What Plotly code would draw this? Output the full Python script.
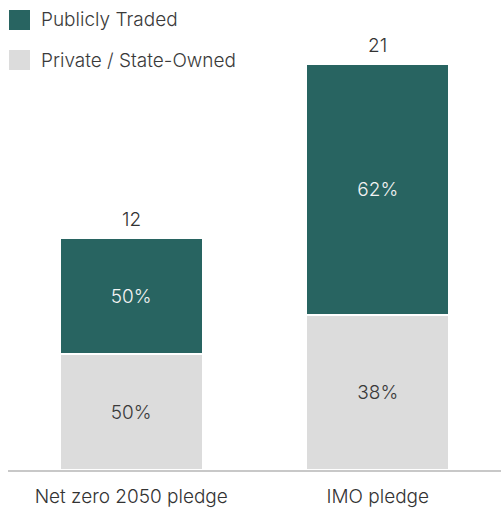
import plotly.graph_objects as go

# Pledge categories and company counts by ownership type
categories = ["Net zero 2050 pledge", "IMO pledge"]
publicly_traded = [6, 13]
private_state_owned = [6, 8]

series_names = ["Publicly Traded", "Private / State-Owned"]
teal = "#286461"
light_gray = "#dcdcdc"
font_family = "Inter, Roboto, sans-serif"
fsize = 19

totals = [p + q for p, q in zip(publicly_traded, private_state_owned)]
pct_public = [f"{round(100 * v / t)}%" for v, t in zip(publicly_traded, totals)]
pct_private = [f"{round(100 * v / t)}%" for v, t in zip(private_state_owned, totals)]

fig = go.Figure()
fig.add_trace(go.Bar(
    x=categories, y=private_state_owned, name=series_names[1],
    marker=dict(color=light_gray, line=dict(color="white", width=2)),
    text=pct_private, textposition="inside", insidetextanchor="middle",
    textfont=dict(color="#3a3a3a", size=fsize, family=font_family, weight=300),
    width=0.58, hoverinfo="skip",
))
fig.add_trace(go.Bar(
    x=categories, y=publicly_traded, name=series_names[0],
    marker=dict(color=teal, line=dict(color="white", width=2)),
    text=pct_public, textposition="inside", insidetextanchor="middle",
    textfont=dict(color="#f2f2f2", size=fsize, family=font_family, weight=300),
    width=0.58, hoverinfo="skip",
))

# Totals above each stack
for cat, tot in zip(categories, totals):
    fig.add_annotation(
        x=cat, y=tot, text=str(tot), showarrow=False,
        yanchor="bottom", yshift=5,
        font=dict(size=fsize, color="#333333", family=font_family, weight=300),
    )

# Legend drawn as swatches with labels
legend_rows = [(series_names[0], teal, 20), (series_names[1], light_gray, 60)]
for label, color, ypx in legend_rows:
    fig.add_shape(
        type="rect", xref="paper", yref="paper",
        x0=(9 - 8) / 493, x1=(30 - 8) / 493,
        y0=(470 - (ypx + 10)) / 464, y1=(470 - (ypx - 10)) / 464,
        fillcolor=color, line=dict(width=0),
    )
    fig.add_annotation(
        xref="paper", yref="paper",
        x=(39 - 8) / 493, y=(470 - ypx) / 464,
        xanchor="left", yanchor="middle", showarrow=False, text=label,
        font=dict(size=fsize, color="#3a3a3a", family=font_family, weight=300),
    )

fig.update_layout(
    barmode="stack",
    width=501, height=508,
    margin=dict(l=8, r=0, t=6, b=38, autoexpand=False),
    paper_bgcolor="white", plot_bgcolor="white",
    showlegend=False,
    font=dict(family=font_family, size=fsize, color="#333333"),
    uniformtext=dict(mode="show", minsize=10),
)
fig.update_xaxes(
    range=[-0.5, 1.5], showline=True, linecolor="#c8c8c8", linewidth=2,
    showgrid=False, ticks="", zeroline=False, ticklabelstandoff=8,
    automargin=False,
    tickfont=dict(size=fsize, color="#333333", family=font_family, weight=300),
)
fig.update_yaxes(range=[0, 24], visible=False, showgrid=False, zeroline=False)
fig.update_traces(cliponaxis=False)

fig.write_html("out.html")
